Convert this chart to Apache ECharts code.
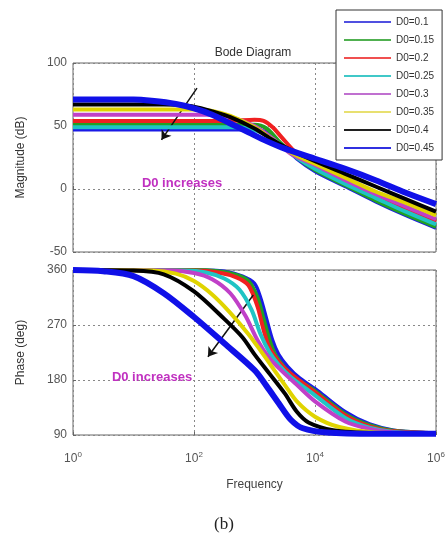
<!DOCTYPE html>
<html><head><meta charset="utf-8">
<script src="https://cdn.jsdelivr.net/npm/echarts@6/dist/echarts.min.js"></script>
<style>html,body{margin:0;padding:0;background:#fff}#c{width:448px;height:540px}</style>
</head><body><div id="c"></div>
<script>
// Legend names
const seriesNames = ['D0=0.1','D0=0.15','D0=0.2','D0=0.25','D0=0.3','D0=0.35','D0=0.4','D0=0.45'];
// x tick exponents shown
const xTickExps = [0, 2, 4, 6];
const magTicks = [-50, 0, 50, 100];
const phaseTicks = [90, 180, 270, 360];

// Magnitude (dB) vs log10(frequency)
const mag01  = [[0,47],[2.6,47],[3,47],[3.2,45],[3.4,37],[3.7,24],[4,14],[4.5,2],[5,-10],[5.5,-21],[6,-31]];
const mag015 = [[0,51],[2.6,51],[3,51],[3.2,48],[3.4,38],[3.7,25],[4,15],[4.5,3],[5,-9],[5.5,-20],[6,-30]];
const mag02  = [[0,54],[2.6,54],[3,55],[3.15,54],[3.3,49],[3.45,41],[3.7,28],[4,17],[4.5,5],[5,-6],[5.5,-16],[6,-26]];
const mag025 = [[0,49],[2.6,49],[2.9,48],[3.2,43],[3.4,36],[3.7,25],[4,16],[4.5,4],[5,-7],[5.5,-18],[6,-28]];
const mag03  = [[0,59],[2.2,59],[2.6,57],[3,50],[3.3,40],[3.6,28],[4,19],[4.5,7],[5,-4],[5.5,-14],[6,-24]];
const mag035 = [[0,63],[2,63],[2.3,62],[2.6,58],[3,49],[3.3,39],[3.6,29],[4,20],[4.5,9],[5,-2],[5.5,-11],[6,-21]];
const mag04  = [[0,67],[1.5,67],[1.9,66],[2.2,63],[2.6,57],[3,48],[3.3,39],[3.6,31],[4,22],[4.5,12],[5,2],[5.5,-8],[6,-18]];
const mag045 = [[0,71],[1,71],[1.3,70],[1.7,67.5],[2,64],[2.3,59],[2.6,52],[2.9,45],[3.2,38],[3.5,32],[4,24],[4.5,16],[5,7],[5.5,-3],[6,-12]];

// Phase (deg) vs log10(frequency)
const ph01  = [[0,360],[2.1,360],[2.5,358],[2.8,350],[3,338],[3.1,315],[3.2,280],[3.3,245],[3.4,222],[3.55,202],[3.75,183],[4.05,162],[4.5,128],[4.9,108],[5.3,98],[6,93]];
const ph015 = [[0,360],[2,360],[2.4,358],[2.7,352],[2.9,342],[3.05,315],[3.15,280],[3.25,245],[3.35,220],[3.5,200],[3.7,182],[4,162],[4.5,124],[4.9,106],[5.3,97],[6,93]];
const ph02  = [[0,360],[2,359],[2.4,356],[2.7,348],[2.9,335],[3.05,300],[3.15,262],[3.25,232],[3.4,210],[3.6,190],[4,160],[4.5,122],[4.9,104],[5.3,96],[6,93]];
const ph025 = [[0,360],[1.8,359],[2.2,356],[2.5,346],[2.75,328],[2.95,295],[3.1,255],[3.25,225],[3.4,205],[3.6,185],[4,155],[4.5,118],[4.9,102],[5.3,95],[6,93]];
const ph03  = [[0,360],[1.6,359],[2,355],[2.3,345],[2.6,322],[2.85,285],[3.05,245],[3.25,215],[3.45,195],[3.7,172],[4,145],[4.5,112],[4.9,100],[5.3,94],[6,92]];
const ph035 = [[0,360],[1.3,359],[1.7,354],[2,342],[2.3,320],[2.6,290],[2.9,255],[3.1,228],[3.3,200],[3.5,172],[3.7,145],[4,120],[4.4,103],[5,94],[6,92]];
const ph04  = [[0,360],[1,359],[1.5,353],[2,325],[2.5,280],[2.8,250],[3,222],[3.25,190],[3.5,158],[3.7,128],[3.9,110],[4.3,98],[5,93],[6,92]];
const ph045 = [[0,360],[0.5,358],[1,350],[1.5,322],[2,283],[2.5,240],[3,196],[3.2,170],[3.4,142],[3.6,115],[3.8,101],[4.2,94],[5,92],[6,92]];

const magData = [mag01, mag015, mag02, mag025, mag03, mag035, mag04, mag045];
const phData = [ph01, ph015, ph02, ph025, ph03, ph035, ph04, ph045];

// styles
const colors = ['#1a1ae6','#22a022','#f02020','#20c4c4','#c040c8','#e0d400','#000000','#1010e8'];
const legendColors = ['#5050e0','#50b050','#f05050','#40c8c8','#c070d0','#e8e070','#202020','#3030e0'];
const widths = [3.5,4,4,4,4,4,4,6];

const toFreq = arr => arr.map(p => [Math.pow(10, p[0]), p[1]]);

const series = [];
seriesNames.forEach((n, i) => {
  series.push({name:n, type:'line', xAxisIndex:0, yAxisIndex:0, data: toFreq(magData[i]),
    symbol:'none', smooth:0.3, color: colors[i], lineStyle:{width:widths[i], color:colors[i]}, z: 2+i});
  series.push({name:n, type:'line', xAxisIndex:1, yAxisIndex:1, data: toFreq(phData[i]),
    symbol:'none', smooth:0.3, color: colors[i], lineStyle:{width:widths[i], color:colors[i]}, z: 2+i});
});
// arrows
series.push({type:'line', xAxisIndex:0, yAxisIndex:0, data:[], silent:true,
  markLine:{silent:true, symbol:['none','arrow'], symbolSize:9, label:{show:false},
    lineStyle:{color:'#111', width:1.5, type:'solid'},
    data:[[{coord:[112, 80]},{coord:[29, 39]}]]}});
series.push({type:'line', xAxisIndex:1, yAxisIndex:1, data:[], silent:true,
  markLine:{silent:true, symbol:['none','arrow'], symbolSize:9, label:{show:false},
    lineStyle:{color:'#111', width:1.5, type:'solid'},
    data:[[{coord:[955, 319]},{coord:[170, 218]}]]}});

const splitStyle = {show:true, lineStyle:{color:'#888', type:[2,3], width:1}};
const xBase = {type:'log', logBase:10, min:1, max:1e6, interval:2,
  axisLine:{show:false}, axisTick:{show:true, inside:true, length:3, lineStyle:{color:'#666'}},
  minorTick:{show:false}, splitLine: splitStyle};

const option = {
  animation:false,
  textStyle:{fontFamily:'Liberation Sans, Arial, sans-serif'},
  grid:[
    {left:73, top:63, width:363, height:189, show:true, borderColor:'#666', borderWidth:1, backgroundColor:'transparent'},
    {left:73, top:270, width:363, height:165, show:true, borderColor:'#666', borderWidth:1, backgroundColor:'transparent'}
  ],
  xAxis:[
    Object.assign({}, xBase, {gridIndex:0, axisLabel:{show:false}}),
    Object.assign({}, xBase, {gridIndex:1,
      name:'Frequency', nameLocation:'middle', nameGap:44, nameTextStyle:{fontSize:12, color:'#444'},
      axisLabel:{show:true, margin:16, color:'#555',
        formatter: v => { const e = Math.round(Math.log10(v)); return xTickExps.indexOf(e) >= 0 ? '{b|10}{s|' + e + '}' : ''; },
        rich:{b:{fontSize:12, color:'#555'}, s:{fontSize:8, color:'#555', verticalAlign:'top', padding:[0,0,8,0]}}}})
  ],
  yAxis:[
    {type:'value', gridIndex:0, min:magTicks[0], max:magTicks[3], interval:50,
      axisLine:{show:false}, axisTick:{show:true, inside:true, length:3, lineStyle:{color:'#666'}},
      axisLabel:{color:'#555', fontSize:12, margin:6}, splitLine:splitStyle,
      name:'Magnitude (dB)', nameLocation:'middle', nameGap:46, nameTextStyle:{fontSize:12, color:'#333'}},
    {type:'value', gridIndex:1, min:phaseTicks[0], max:phaseTicks[3], interval:90,
      axisLine:{show:false}, axisTick:{show:true, inside:true, length:3, lineStyle:{color:'#666'}},
      axisLabel:{color:'#555', fontSize:12, margin:6}, splitLine:splitStyle,
      name:'Phase (deg)', nameLocation:'middle', nameGap:46, nameTextStyle:{fontSize:12, color:'#333'}}
  ],
  legend:{data:seriesNames.map((n, i) => ({name:n, icon:'rect', itemStyle:{color:legendColors[i]}})),
    orient:'vertical', left:336, top:10, itemWidth:47, itemHeight:2, itemGap:6,
    padding:[6,8,6,8], backgroundColor:'#fff', borderColor:'#333', borderWidth:1, z:20,
    textStyle:{fontSize:10, color:'#333', lineHeight:12}},
  graphic:[
    {type:'text', x:253, y:53, style:{text:'Bode Diagram', fontSize:12, fill:'#333', align:'center', verticalAlign:'middle', fontFamily:'Liberation Sans, Arial'}},
    {type:'text', x:182, y:183, z:30, style:{text:'D0 increases', fontSize:13, fontWeight:'bold', fill:'#c030c0', align:'center', verticalAlign:'middle', fontFamily:'Liberation Sans, Arial'}},
    {type:'text', x:152, y:377, z:30, style:{text:'D0 increases', fontSize:13, fontWeight:'bold', fill:'#c030c0', align:'center', verticalAlign:'middle', fontFamily:'Liberation Sans, Arial'}},
    {type:'text', x:224, y:525, style:{text:'(b)', fontSize:17, fill:'#222', align:'center', verticalAlign:'middle', fontFamily:'Liberation Serif, Times New Roman, serif'}}
  ],
  series: series
};
const chart = echarts.init(document.getElementById('c'), null, {renderer:'canvas'});
chart.setOption(option);
</script></body></html>
